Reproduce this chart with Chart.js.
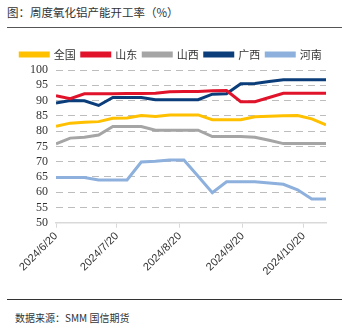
<!DOCTYPE html>
<html>
<head>
<meta charset="utf-8">
<script src="https://cdn.jsdelivr.net/npm/chart.js@4/dist/chart.umd.min.js"></script>
<style>
  html, body { margin: 0; padding: 0; background: #fff; }
  body { width: 342px; height: 334px; position: relative; overflow: hidden;
         font-family: "Noto Sans CJK SC", "Liberation Sans", sans-serif; }
  #title { position: absolute; left: 7px; top: 4px; font-size: 11.5px; color: #333; white-space: nowrap; }
  #ruleTop { position: absolute; left: 7px; right: 0; top: 27px; height: 0; border-top: 1.5px solid #555; }
  #wrap { position: absolute; left: 0; top: 30px; width: 342px; height: 268px; }
  #ruleBottom { position: absolute; left: 7px; right: 0; top: 299px; height: 0; border-top: 1.5px solid #333; }
  #source { position: absolute; left: 15px; top: 310px; font-size: 10px; color: #333; white-space: nowrap; }
</style>
</head>
<body>
<div id="title">图：周度氧化铝产能开工率（%）</div>
<div id="ruleTop"></div>
<div id="wrap"><canvas id="c"></canvas></div>
<div id="ruleBottom"></div>
<div id="source">数据来源：SMM 国信期货</div>
<script>
// Weekly observation dates
const dates = [
  "2024/6/20", "2024/6/27", "2024/7/4", "2024/7/11", "2024/7/18",
  "2024/7/25", "2024/8/1", "2024/8/8", "2024/8/15", "2024/8/22",
  "2024/8/29", "2024/9/5", "2024/9/12", "2024/9/19", "2024/9/26",
  "2024/10/3", "2024/10/10", "2024/10/17", "2024/10/24", "2024/10/31"
];
// Operating rate (%) by region
const national = [81.6, 82.6, 82.9, 83.1, 84.2, 84.3, 85.1, 84.8, 85.3, 85.3, 85.3, 83.7, 83.7, 83.7, 84.7, 84.9, 85.0, 85.1, 84.0, 82.0];
const shandong = [91.6, 90.6, 92.2, 92.2, 92.2, 92.3, 92.3, 92.4, 92.9, 93.0, 93.0, 93.2, 93.3, 89.6, 89.6, 91.0, 92.4, 92.4, 92.4, 92.4];
const shanxi   = [75.8, 77.7, 78.0, 78.7, 81.5, 81.5, 81.5, 80.3, 80.3, 80.3, 80.3, 78.2, 78.2, 78.2, 78.0, 77.0, 75.9, 75.9, 75.9, 75.9];
const guangxi  = [89.2, 90.0, 89.9, 88.4, 91.0, 91.0, 91.0, 90.3, 90.3, 90.3, 90.3, 92.1, 92.2, 95.5, 95.6, 96.2, 96.8, 96.8, 96.8, 96.8];
const henan    = [64.8, 64.8, 64.8, 64.0, 64.0, 64.0, 69.9, 70.1, 70.5, 70.5, 65.2, 59.8, 63.4, 63.4, 63.4, 63.0, 62.6, 60.8, 57.8, 57.8];
// Axis labels
const xTickLabels = ["2024/6/20", "2024/7/20", "2024/8/20", "2024/9/20", "2024/10/20"];
const seriesNames = ["全国", "山东", "山西", "广西", "河南"];

const DAY = 86400000;
const toDate = s => { const [y, m, d] = s.split("/").map(Number); return Date.UTC(y, m - 1, d); };
const origin = toDate(dates[0]);
const dayOf = s => Math.round((toDate(s) - origin) / DAY);
const xTickDays = xTickLabels.map(dayOf);
const lastDay = dayOf(dates[dates.length - 1]);

const colors = ["#FFC000", "#E0132B", "#A5A5A5", "#0A3D7A", "#8DB0DD"];
const series = [national, shandong, shanxi, guangxi, henan];

const datasets = series.map((vals, i) => ({
  label: seriesNames[i],
  data: vals.map((v, j) => ({ x: dayOf(dates[j]), y: v })),
  borderColor: colors[i],
  backgroundColor: colors[i],
  borderWidth: 3,
  pointRadius: 0,
  tension: 0,
  fill: false,
  yAxisID: "y"
}));

new Chart(document.getElementById("c"), {
  type: "line",
  data: { datasets },
  options: {
    responsive: true,
    maintainAspectRatio: false,
    animation: false,
    layout: { padding: { left: 0, right: 0, top: 13, bottom: 18 } },
    plugins: {
      legend: {
        position: "top",
        labels: {
          boxWidth: 28,
          boxHeight: 3,
          padding: 6,
          color: "#333",
          font: { family: "Noto Sans CJK SC", size: 11 }
        }
      },
      tooltip: { enabled: false }
    },
    scales: {
      x: {
        type: "linear",
        min: 0,
        max: lastDay,
        afterBuildTicks: axis => { axis.ticks = xTickDays.map(v => ({ value: v })); },
        ticks: {
          minRotation: 45,
          maxRotation: 45,
          autoSkip: false,
          padding: 2,
          color: "#333",
          font: { family: "Liberation Sans", size: 11 },
          callback: v => { const k = xTickDays.indexOf(v); return k >= 0 ? xTickLabels[k] : ""; }
        },
        grid: { drawOnChartArea: false, drawTicks: true, tickLength: 5, color: "#D9D9D9" },
        border: { display: true, color: "#D9D9D9", width: 1.5 }
      },
      y: {
        min: 50,
        max: 100,
        afterFit: s => { s.width = 56; },
        ticks: {
          stepSize: 5,
          autoSkip: false,
          padding: 8,
          color: "#333",
          font: { family: "Liberation Sans Narrow", size: 12 }
        },
        grid: {
          drawTicks: false,
          color: ctx => ctx.tick && ctx.tick.value === 50 ? "rgba(0,0,0,0)" : "#BDBDBD",
          lineWidth: 1,
          borderDash: [7, 5]
        },
        border: { display: false, dash: [7, 5] }
      },
      // empty right-hand gutter
      yRight: {
        position: "right",
        display: true,
        min: 50,
        max: 100,
        afterFit: s => { s.width = 16; },
        ticks: { display: false },
        grid: { display: false },
        border: { display: false }
      }
    }
  }
});
</script>
</body>
</html>
